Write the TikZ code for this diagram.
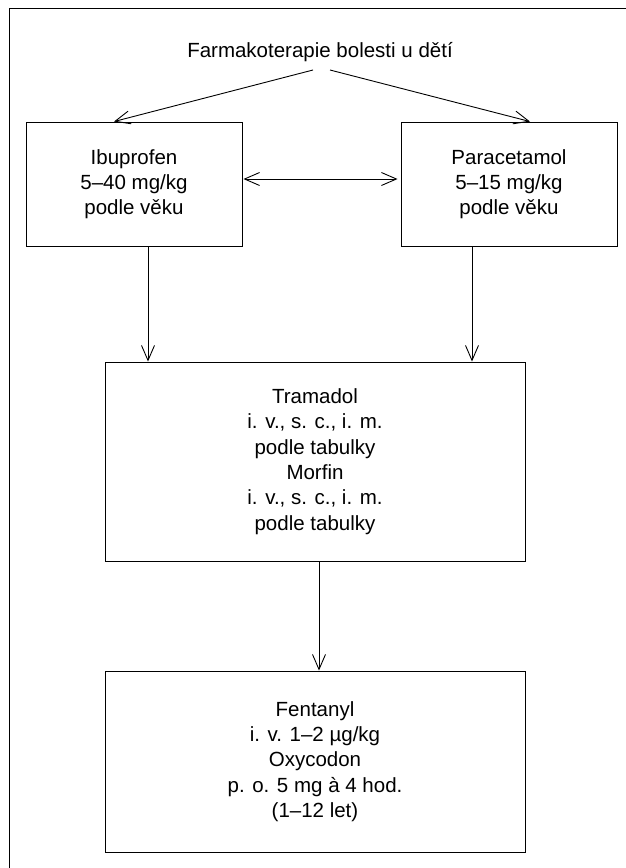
\documentclass[tikz,border=0pt]{standalone}
\usepackage{fontspec}
\setmainfont{Liberation Sans}
\usetikzlibrary{arrows.meta,calc}

\tikzset{
  stepbox/.style={draw, line width=0.9pt, inner sep=0pt, align=center,
    font=\fontsize{20.5}{25.3}\selectfont},
  arr/.style={line width=0.9pt, -{Straight Barb[length=15pt,width=13pt,line width=0.9pt]}},
  dblarr/.style={line width=0.9pt, {Straight Barb[length=15pt,width=13pt,line width=0.9pt]}-{Straight Barb[length=15pt,width=13pt,line width=0.9pt]}},
  frame/.style={line width=1.3pt},
  titletext/.style={inner sep=0pt, font=\fontsize{20.5}{25.3}\selectfont}
}

\begin{document}
\begin{tikzpicture}[x=1pt, y=-1pt]
  \useasboundingbox (0,0) rectangle (626,868);
  \fill[white] (0,0) rectangle (626,868);

  % page frame, open on the right and at the bottom
  \draw[frame] (9.5,868) -- (9.5,8.5) -- (626,8.5);

  % heading
  \node[titletext, anchor=base] (title) at (320,57) {Farmakoterapie bolesti u dětí};

  % first level: non-opioid analgesics
  \node[stepbox, minimum width=216, minimum height=124] (ibu) at (134,184)
    {Ibuprofen\\5–40 mg/kg\\podle věku};
  \node[stepbox, minimum width=216, minimum height=124] (para) at (509,184)
    {Paracetamol\\5–15 mg/kg\\podle věku};

  % second level: weak and strong opioids
  \node[stepbox, minimum width=420, minimum height=199] (tra) at (315,461.5)
    {Tramadol\\i. v., s. c., i. m.\\podle tabulky\\Morfin\\i. v., s. c., i. m.\\podle tabulky};

  % third level
  \node[stepbox, minimum width=420, minimum height=181] (fen) at (315,761.5)
    {Fentanyl\\i. v. 1–2 µg/kg\\Oxycodon\\p. o. 5 mg à 4 hod.\\(1–12 let)};

  % connectors from the heading
  \coordinate (tl) at ($(title.base)+(-7,13)$);
  \coordinate (tr) at ($(title.base)+(10,13)$);
  \draw[arr] (tl) -- ($(ibu.north)+(-20,0)$);
  \draw[arr] (tr) -- ($(para.north)+(21,0)$);

  % alternative between the two first-level drugs
  \draw[dblarr] ($(ibu.east)+(1,-5)$) -- ($(para.west)+(-3,-5)$);

  % escalation to the second level
  \coordinate (a1) at ($(ibu.south)+(14,0)$);
  \coordinate (a2) at ($(para.south)+(-37,0)$);
  \draw[arr] (a1) -- (a1 |- tra.north);
  \draw[arr] (a2) -- (a2 |- tra.north);

  % escalation to the third level
  \coordinate (a3) at ($(tra.south)+(4,0)$);
  \draw[arr] (a3) -- (a3 |- fen.north);
\end{tikzpicture}
\end{document}
